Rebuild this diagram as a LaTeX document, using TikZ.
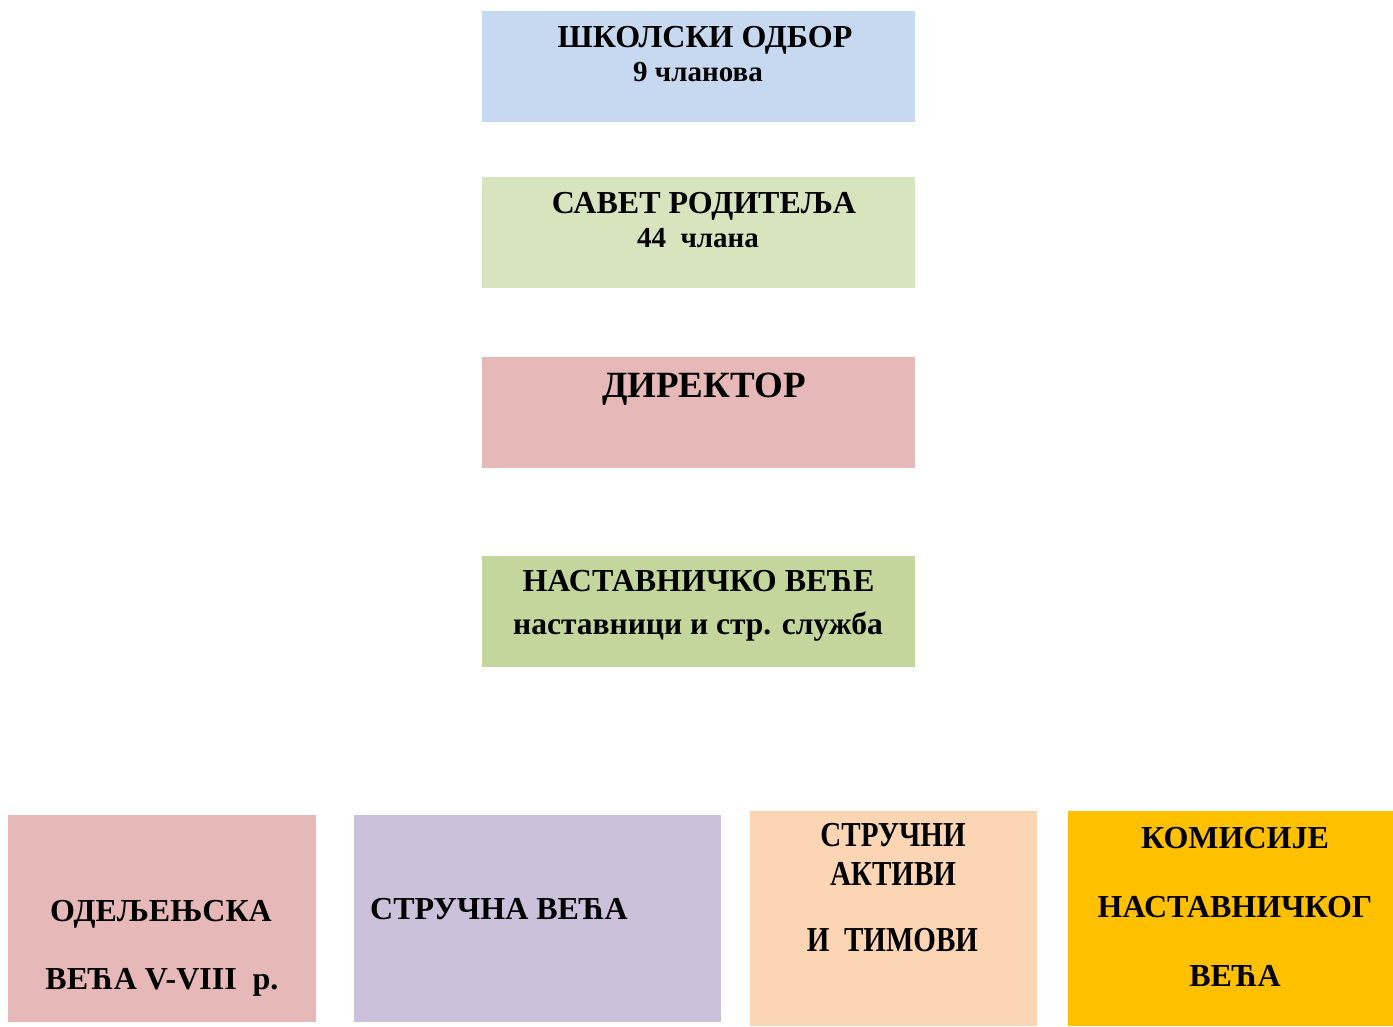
\documentclass[tikz,border=0pt]{standalone}
\usepackage{fontspec}
\setmainfont{Liberation Serif}
\usepackage{graphicx}
\usepackage{tikz}
\usetikzlibrary{positioning}
\definecolor{odborcol}{HTML}{C6D9F1}
\definecolor{savetcol}{HTML}{D7E4BD}
\definecolor{dircol}{HTML}{E6B9B8}
\definecolor{vececol}{HTML}{C3D69B}
\definecolor{strcol}{HTML}{CCC1DA}
\definecolor{aktcol}{HTML}{FCD5B5}
\definecolor{komcol}{HTML}{FFC000}
\newcommand{\fs}[1]{\fontsize{#1}{#1}\selectfont\bfseries}
\newcommand{\narrow}[1]{\scalebox{0.83}[1]{\fs{35}#1}}
\tikzset{box/.style = {rectangle,inner sep=0pt,outer sep=0pt,anchor=north west},
         lbl/.style = {inner sep=0pt,anchor=base}}

\begin{document}
\begin{tikzpicture}[x=1pt,y=-1pt]
                \useasboundingbox (0,0) rectangle (1393,1026);
                % upper boxes
                \node[box,fill=odborcol,minimum width=433pt,minimum height=111pt] (odbor) at (482,11) {};
                \node[box,fill=savetcol,minimum width=433pt,minimum height=111pt] (savet) at (482,177) {};
                \node[box,fill=dircol,minimum width=433pt,minimum height=111pt] (dir) at (482,357) {};
                \node[box,fill=vececol,minimum width=433pt,minimum height=111pt] (vece) at (482,556) {};
                % lower boxes
                \node[box,fill=dircol,minimum width=308pt,minimum height=207pt] (odelj) at (8,815) {};
                \node[box,fill=strcol,minimum width=367pt,minimum height=207pt] (strvece) at (354,815) {};
                \node[box,fill=aktcol,minimum width=287pt,minimum height=215pt] (akt) at (750,811) {};
                \node[box,fill=komcol,minimum width=325pt,minimum height=215pt] (kom) at (1068,811) {};
                % texts
                \node[lbl] (t1) at (705,47) {\fs{32}ШКОЛСКИ ОДБОР};
                \node[lbl] (t1b) at (698,81) {\fs{29}9 чланова};
                \node[lbl] (t2) at (704,213) {\fs{32}САВЕТ РОДИТЕЉА};
                \node[lbl] (t2b) at (698,247) {\fs{29}44\ \ члана};
                \node[lbl] (t3) at (704,397) {\fs{37}ДИРЕКТОР};
                \node[lbl] (t4) at (698.5,591) {\fs{32}НАСТАВНИЧКО ВЕЋЕ};
                \node[lbl] (t4b) at (698,634) {\fs{31.5}наставници и стр. служба};
                \node[lbl] (t5) at (161,921) {\fs{32}ОДЕЉЕЊСКА};
                \node[lbl] (t5b) at (162,989) {\fs{32}ВЕЋА V-VIII\ \ р.};
                \node[lbl,anchor=base west] (t6) at (370,919) {\fs{32}СТРУЧНА ВЕЋА};
                \node[lbl] (t7) at (893,846) {\narrow{СТРУЧНИ}};
                \node[lbl] (t7b) at (893,885) {\narrow{АКТИВИ}};
                \node[lbl] (t7c) at (892.5,951) {\narrow{И\ \ ТИМОВИ}};
                \node[lbl] (t8) at (1235,848) {\fs{32}КОМИСИЈЕ};
                \node[lbl] (t8b) at (1235,917) {\fs{32}НАСТАВНИЧКОГ};
                \node[lbl] (t8c) at (1235,986) {\fs{32}ВЕЋА};
            \end{tikzpicture}
\end{document}
